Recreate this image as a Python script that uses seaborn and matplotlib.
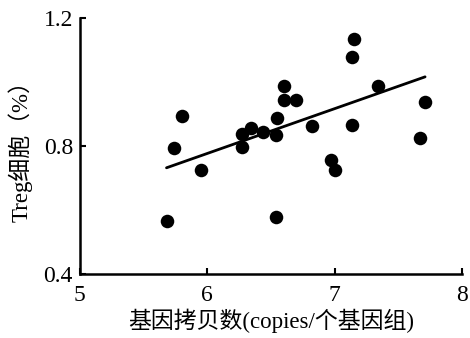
import matplotlib
matplotlib.use("Agg")
import matplotlib.pyplot as plt
import pandas as pd
import seaborn as sns

# values
copies = [5.68, 5.74, 5.80, 5.95, 6.27, 6.27, 6.34, 6.44, 6.54, 6.55, 6.60, 6.60,
          6.70, 6.82, 6.54, 6.97, 7.00, 7.14, 7.14, 7.15, 7.34, 7.67, 7.71]
treg = [0.566, 0.793, 0.894, 0.725, 0.798, 0.837, 0.856, 0.845, 0.835, 0.887, 0.988, 0.944,
        0.944, 0.863, 0.578, 0.757, 0.724, 0.866, 1.078, 1.133, 0.986, 0.824, 0.936]
# fitted line as printed in the figure (end points)
fit_x = [5.68, 7.71]
fit_y = [0.732, 1.016]
x_ticks = [5, 6, 7, 8]
y_ticks = [0.4, 0.8, 1.2]

df = pd.DataFrame({"copies": copies, "treg": treg})
fit = pd.DataFrame({"copies": fit_x, "treg": fit_y})

sns.set_style("ticks")
plt.rcParams["font.family"] = ["Liberation Serif", "Noto Sans CJK SC"]

fig = plt.figure(figsize=(4.7, 3.38), dpi=100)
ax = fig.add_axes([0.170, 0.189, 0.813, 0.758])

sns.scatterplot(data=df, x="copies", y="treg", ax=ax, s=95, color="black",
                linewidth=0, zorder=3)
sns.lineplot(data=fit, x="copies", y="treg", ax=ax, color="black", lw=2)

ax.set_xlim(5, 8)
ax.set_ylim(0.4, 1.2)
ax.set_xticks(x_ticks)
ax.set_yticks(y_ticks)
ax.set_xticklabels([str(v) for v in x_ticks])
ax.set_yticklabels([f"{v:.1f}" for v in y_ticks])
ax.tick_params(direction="in", length=4, width=1.5, labelsize=17, colors="black")
ax.tick_params(axis="x", pad=8)
ax.tick_params(axis="y", pad=5)
sns.despine(ax=ax)
for s in ["left", "bottom"]:
    ax.spines[s].set_linewidth(1.8)
    ax.spines[s].set_color("black")

ax.set_xlabel("基因拷贝数(copies/个基因组)", fontsize=16.5, labelpad=2, color="black")
ax.set_ylabel("Treg细胞（%）", fontsize=16.5, labelpad=8, color="black")

fig.savefig("out.png", dpi=100)
